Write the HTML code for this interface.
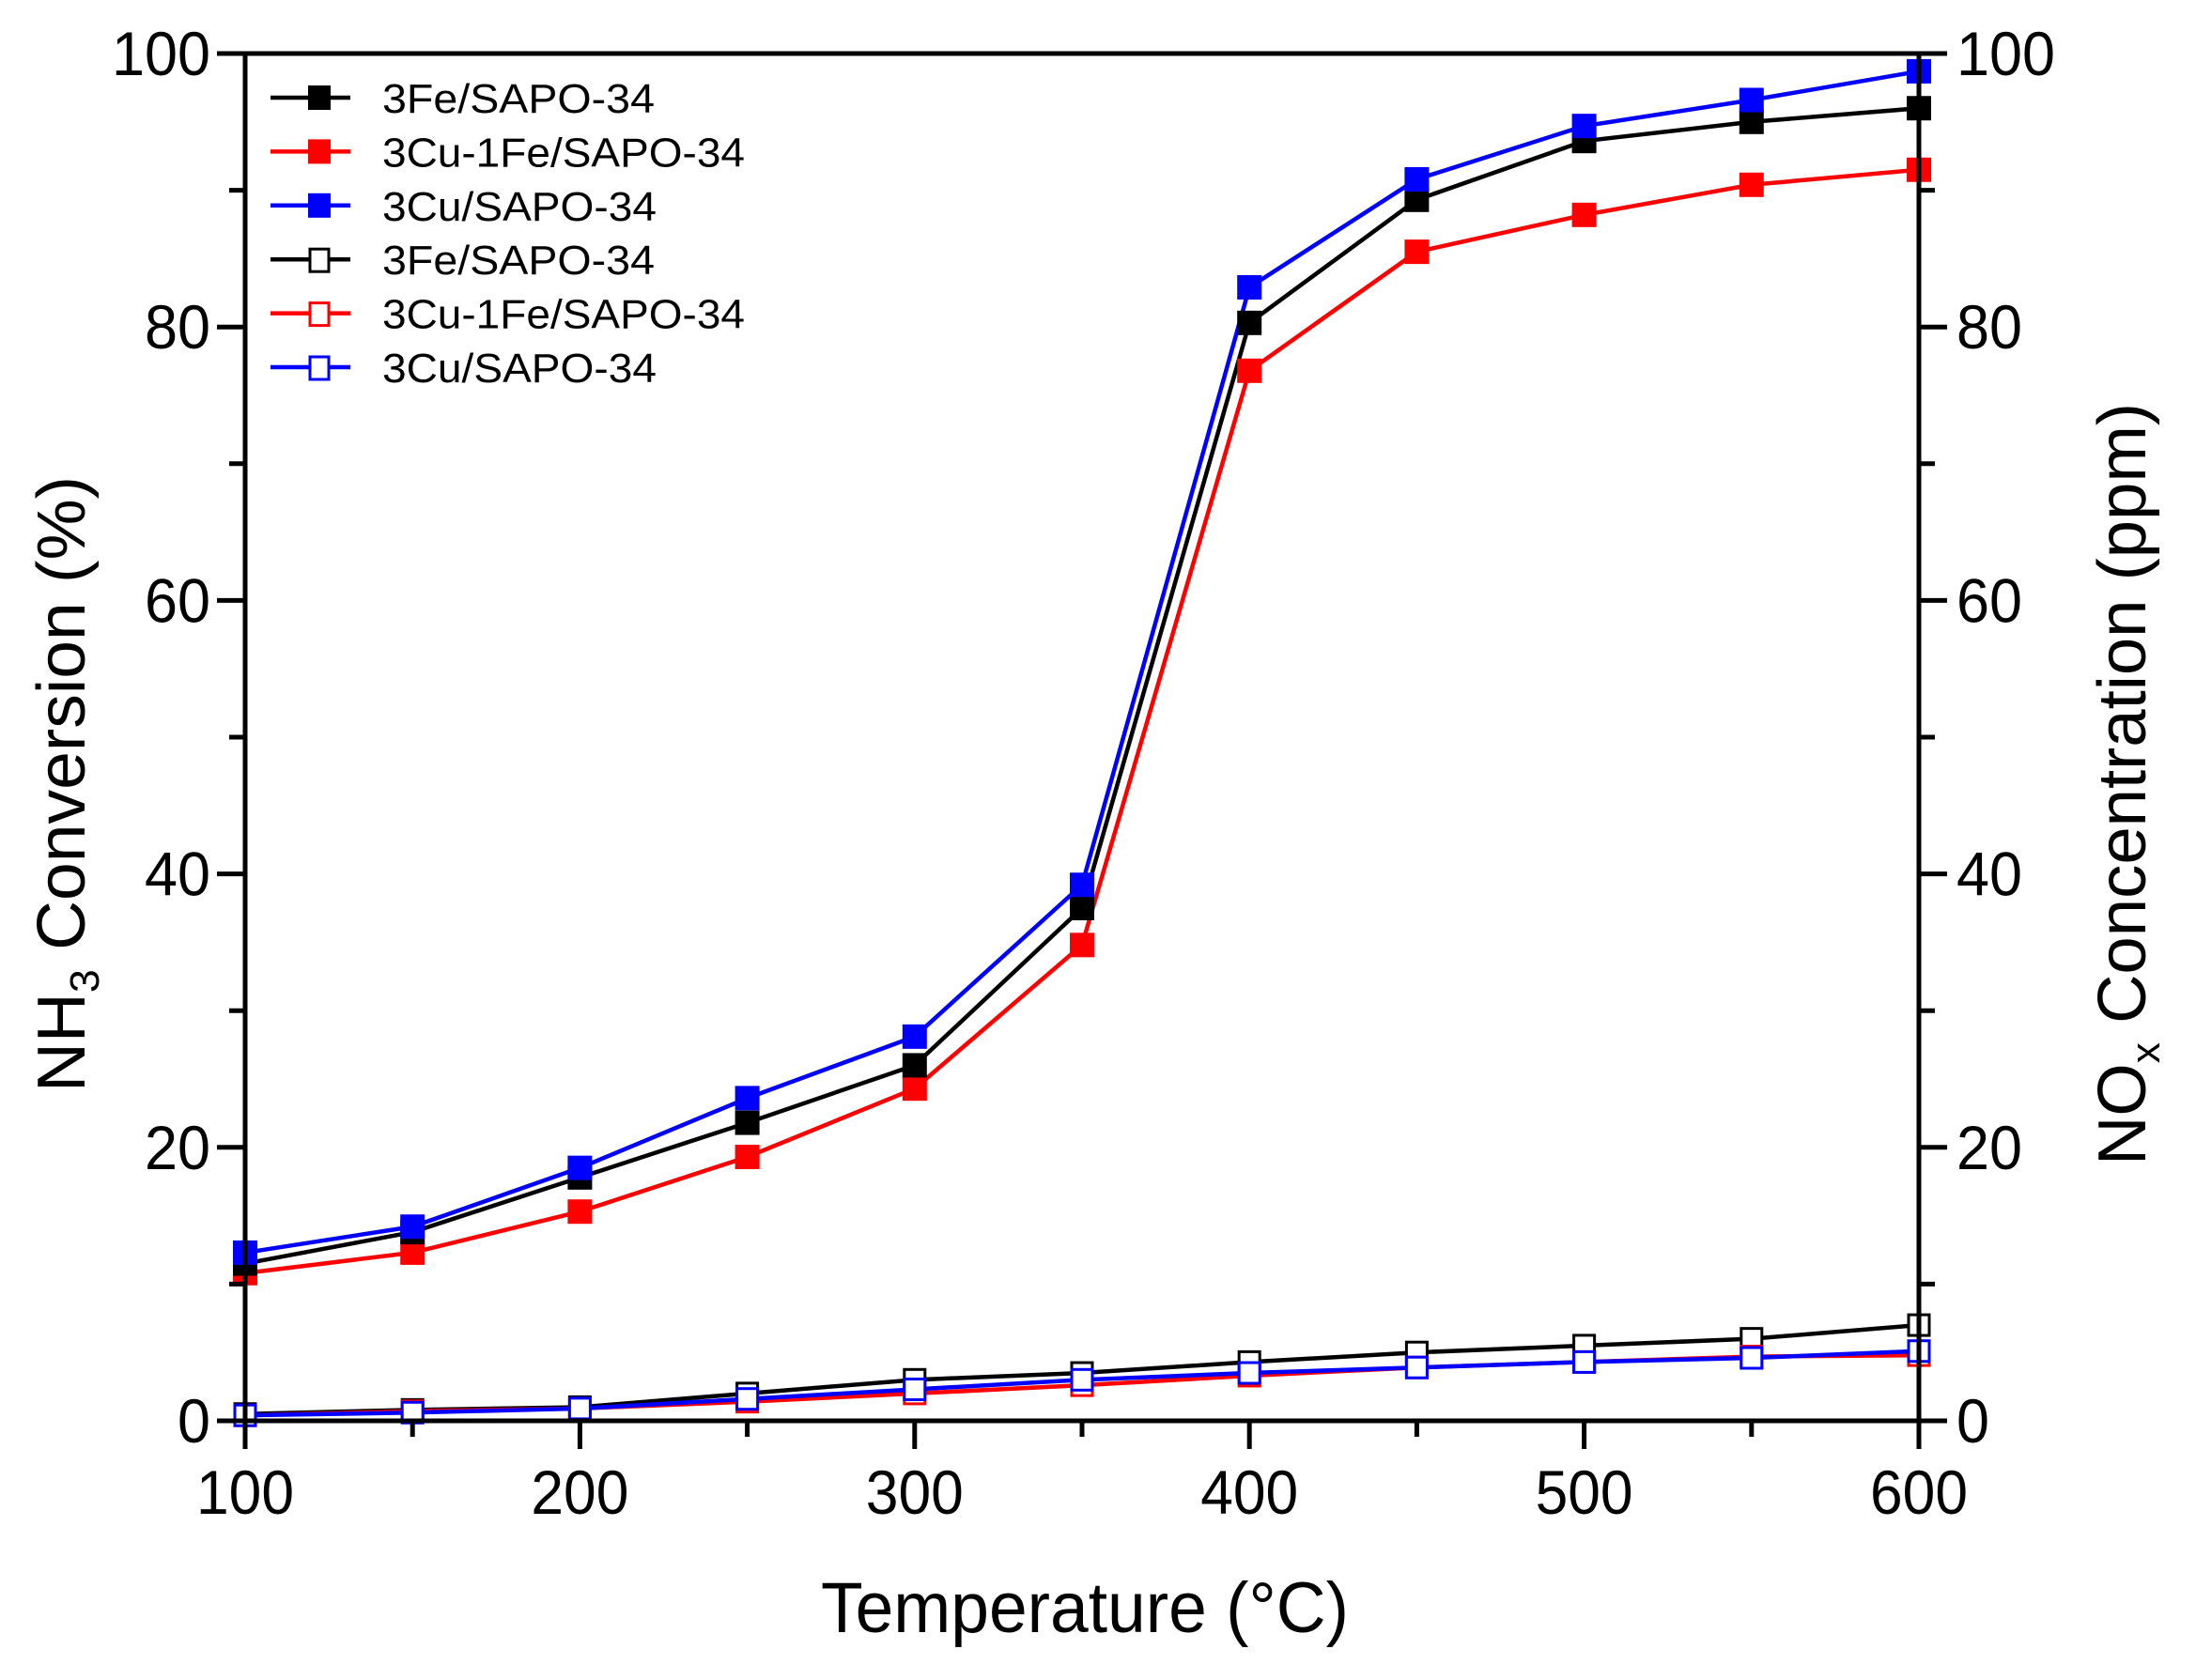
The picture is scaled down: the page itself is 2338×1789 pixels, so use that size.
<!DOCTYPE html>
<html><head><meta charset="utf-8"><style>html,body{margin:0;padding:0;background:#fff}svg{display:block}</style></head>
<body>
<svg width="2338" height="1789" viewBox="0 0 2338 1789" xmlns="http://www.w3.org/2000/svg" font-family="Liberation Sans, Arial, sans-serif">
<rect width="2338" height="1789" fill="#fff"/>
<g id="data"></g>
<g stroke="#000" stroke-width="5" fill="none">
<rect x="261" y="57" width="1782" height="1456"/>
</g>
<g id="ticks" stroke="#000" stroke-width="5"></g>
<g font-size="66" fill="#000" id="labels"></g>
<text x="1155" y="1738" font-size="76" text-anchor="middle" textLength="562" lengthAdjust="spacingAndGlyphs">Temperature (°C)</text>
<text transform="translate(90,835) rotate(-90)" font-size="72" text-anchor="middle" textLength="656" lengthAdjust="spacingAndGlyphs">NH<tspan font-size="44" dy="15">3</tspan><tspan dy="-15"> Conversion (%)</tspan></text>
<text transform="translate(2284,835) rotate(-90)" font-size="72" text-anchor="middle" textLength="812" lengthAdjust="spacingAndGlyphs">NO<tspan font-size="44" dy="15">x</tspan><tspan dy="-15"> Concentration (ppm)</tspan></text>
<g id="legend" font-size="44"></g>
<script>
const NS="http://www.w3.org/2000/svg";
function el(p,t,a,txt){const e=document.createElementNS(NS,t);for(const k in a)e.setAttribute(k,a[k]);if(txt!=null)e.textContent=txt;p.appendChild(e);return e;}
const X=v=>261+(v-100)*3.564, Y=v=>1513-v*14.56;
const xs=[100,150,200,250,300,350,400,450,500,550,600];
const D=document.getElementById('data');
const series=[
 {c:'#ff0000',f:1,d:[10.8,12.3,15.3,19.3,24.3,34.8,76.8,85.5,88.2,90.4,91.5]},
 {c:'#000000',f:1,d:[11.5,13.8,17.8,21.8,26,37.5,80.3,89.3,93.6,95,96]},
 {c:'#0000ff',f:1,d:[12.3,14.2,18.5,23.6,28.1,39.2,82.9,90.8,94.7,96.6,98.7]},
 {c:'#000000',f:0,d:[0.5,0.8,1,2,3,3.5,4.3,5,5.5,6,7]},
 {c:'#ff0000',f:0,d:[0.4,0.7,0.9,1.4,2,2.6,3.3,3.9,4.3,4.7,4.8]},
 {c:'#0000ff',f:0,d:[0.4,0.6,0.9,1.6,2.3,3,3.5,3.9,4.3,4.6,5.1]},
];
series.forEach(s=>{
 el(D,'polyline',{points:xs.map((x,i)=>X(x)+','+Y(s.d[i])).join(' '),fill:'none',stroke:s.c,'stroke-width':4.5});
});
series.forEach(s=>{
 xs.forEach((x,i)=>{
  if(s.f) el(D,'rect',{x:X(x)-13,y:Y(s.d[i])-13,width:26,height:26,fill:s.c});
  else el(D,'rect',{x:X(x)-11,y:Y(s.d[i])-11,width:22,height:22,fill:'#fff',stroke:s.c,'stroke-width':3});
 });
});
const T=document.getElementById('ticks'),L=document.getElementById('labels');
for(let v=100;v<=600;v+=50){const maj=v%100==0;el(T,'line',{x1:X(v),y1:1513,x2:X(v),y2:1513+(maj?30:17)});
 if(maj) el(L,'text',{x:X(v),y:1612,'text-anchor':'middle',textLength:104,lengthAdjust:'spacingAndGlyphs'},v);}
for(let v=0;v<=100;v+=10){const maj=v%20==0;
 el(T,'line',{x1:261,y1:Y(v),x2:261-(maj?30:17),y2:Y(v)});
 el(T,'line',{x1:2043,y1:Y(v),x2:2043+(maj?30:17),y2:Y(v)});
 if(maj){const w=String(v).length*35;
  el(L,'text',{x:224,y:Y(v)+23,'text-anchor':'end',textLength:w,lengthAdjust:'spacingAndGlyphs'},v);
  el(L,'text',{x:2083,y:Y(v)+23,textLength:w,lengthAdjust:'spacingAndGlyphs'},v);}}
const G=document.getElementById('legend');
const names=['3Fe/SAPO-34','3Cu-1Fe/SAPO-34','3Cu/SAPO-34','3Fe/SAPO-34','3Cu-1Fe/SAPO-34','3Cu/SAPO-34'];
const lc=['#000','#ff0000','#0000ff','#000','#ff0000','#0000ff'];
const wl=[290,386,292,290,386,292];
names.forEach((n,i)=>{const y=104+i*57.4;
 el(G,'line',{x1:288,y1:y,x2:373,y2:y,stroke:lc[i],'stroke-width':4.5});
 if(i<3) el(G,'rect',{x:328,y:y-13,width:24,height:26,fill:lc[i]});
 else el(G,'rect',{x:330,y:y-11,width:20,height:24,fill:'#fff',stroke:lc[i],'stroke-width':3});
 el(G,'text',{x:407,y:y+16,textLength:wl[i],lengthAdjust:'spacingAndGlyphs'},n);
});
</script>
</svg>
</body></html>
